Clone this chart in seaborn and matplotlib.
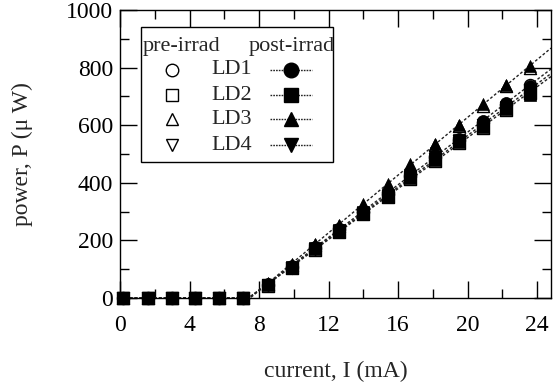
import numpy as np
import pandas as pd
import matplotlib
matplotlib.use("Agg")
import matplotlib.pyplot as plt
import seaborn as sns
from matplotlib.lines import Line2D
from matplotlib.patches import Rectangle
from matplotlib.ticker import MultipleLocator

# ---------------- data ----------------
current = [0.2, 1.6, 3.0, 4.3, 5.7, 7.1, 8.5, 9.9, 11.2, 12.6, 14.0, 15.4,
           16.7, 18.1, 19.5, 20.9, 22.2, 23.6]
devices = ["LD1", "LD2", "LD3", "LD4"]
markers = ["o", "s", "^", "v"]

pre_ld1 = [0, 0, 0, 0, 0, 0, 45, 108, 175, 238, 300, 362, 425, 490, 550, 612, 675, 738]
pre_ld2 = [0, 0, 0, 0, 0, 0, 42, 103, 168, 228, 290, 350, 412, 475, 538, 592, 652, 712]
pre_ld3 = [0, 0, 0, 0, 0, 0, 50, 115, 185, 250, 320, 390, 460, 530, 598, 668, 735, 800]
pre_ld4 = [0, 0, 0, 0, 0, 0, 44, 105, 170, 232, 295, 355, 420, 482, 545, 600, 660, 722]

post_ld1 = [0, 0, 0, 0, 0, 0, 48, 110, 177, 240, 302, 365, 428, 495, 552, 615, 678, 735]
post_ld2 = [0, 0, 0, 0, 0, 0, 44, 105, 170, 230, 292, 352, 418, 478, 540, 595, 655, 705]
post_ld3 = [0, 0, 0, 0, 0, 0, 52, 118, 188, 255, 325, 395, 465, 535, 602, 672, 738, 805]
post_ld4 = [0, 0, 0, 0, 0, 0, 46, 107, 172, 235, 297, 357, 422, 485, 547, 602, 662, 718]

pre = [pre_ld1, pre_ld2, pre_ld3, pre_ld4]
post = [post_ld1, post_ld2, post_ld3, post_ld4]

x_ticks = [0, 4, 8, 12, 16, 20, 24]
y_ticks = [0, 200, 400, 600, 800, 1000]
x_max = 24.8
y_max = 1000

# ---------------- style ----------------
sns.set_style("ticks")
plt.rcParams["font.family"] = ["Liberation Serif", "DejaVu Serif"]

W, H = 554, 387
fig = plt.figure(figsize=(W / 100, H / 100), dpi=100)
ax = fig.add_axes([120 / W, 1 - 298 / H, (551 - 120) / W, (298 - 10) / H])

line_kw = dict(color="#222222", lw=1.0, linestyle=(0, (2, 1.5)))

# fitted lines through post-irradiation data
for ys in post:
    xa = np.array(current, dtype=float)
    ya = np.array(ys, dtype=float)
    m = ya > 0
    slope, icpt = np.polyfit(xa[m], ya[m], 1)
    th = -icpt / slope
    df = pd.DataFrame({"x": [0, th, x_max], "y": [0, 0, slope * x_max + icpt]})
    sns.lineplot(data=df, x="x", y="y", sort=False, ax=ax, zorder=2, **line_kw)

msize = 75
for ys, mk in zip(pre, markers):
    sns.scatterplot(x=current, y=ys, marker=mk, s=msize, facecolor="white",
                    edgecolor="black", linewidth=1.0, clip_on=False, zorder=3, ax=ax)
for ys, mk in zip(post, markers):
    sns.scatterplot(x=current, y=ys, marker=mk, s=msize, facecolor="black",
                    edgecolor="black", linewidth=0.5, clip_on=False, zorder=4, ax=ax)

ax.set_xlim(0, x_max)
ax.set_ylim(0, y_max)
ax.set_xticks(x_ticks)
ax.set_yticks(y_ticks)
ax.xaxis.set_minor_locator(MultipleLocator(2))
ax.yaxis.set_minor_locator(MultipleLocator(100))
ax.tick_params(which="both", direction="in", top=True, right=True,
               width=1.0, colors="black", labelsize=17)
ax.tick_params(which="major", length=12)
ax.tick_params(which="minor", length=6.5)
ax.tick_params(axis="x", which="major", pad=12)
ax.tick_params(axis="y", which="major", pad=5)
for sp in ax.spines.values():
    sp.set_visible(True)
    sp.set_linewidth(1.0)
    sp.set_color("black")

ax.set_xlabel("current, I (mA)", fontsize=17, labelpad=18)
ax.set_ylabel("power, P (\u03bc W)", fontsize=17, labelpad=24)

# ---------------- legend (manual table) ----------------
def fx(px):
    return px / W

def fy(py):
    return 1 - py / H

fig.add_artist(Rectangle((fx(141), fy(162)), fx(333) - fx(141), fy(27) - fy(162),
                         transform=fig.transFigure, fill=True, facecolor="white",
                         edgecolor="black", lw=1.0, zorder=10))
fig.text(fx(181), fy(46), "pre-irrad", ha="center", va="center", fontsize=16, zorder=11)
fig.text(fx(291.5), fy(46), "post-irrad", ha="center", va="center", fontsize=16, zorder=11)
rows_y = [70, 95, 119, 145]
for name, mk, ry in zip(devices, markers, rows_y):
    fig.add_artist(Line2D([fx(172)], [fy(ry)], marker=mk, markersize=9,
                          markerfacecolor="white", markeredgecolor="black",
                          markeredgewidth=1.0, linestyle="none",
                          transform=fig.transFigure, zorder=11))
    fig.text(fx(211), fy(ry), name, ha="left", va="center", fontsize=16, zorder=11)
    fig.add_artist(Line2D([fx(270), fx(312)], [fy(ry), fy(ry)], color="#222222",
                          lw=1.0, linestyle=(0, (1.2, 0.8)),
                          transform=fig.transFigure, zorder=11))
    fig.add_artist(Line2D([fx(291)], [fy(ry)], marker=mk, markersize=10.5,
                          markerfacecolor="black", markeredgecolor="black",
                          linestyle="none", transform=fig.transFigure, zorder=12))

fig.savefig("out.png", dpi=100)
